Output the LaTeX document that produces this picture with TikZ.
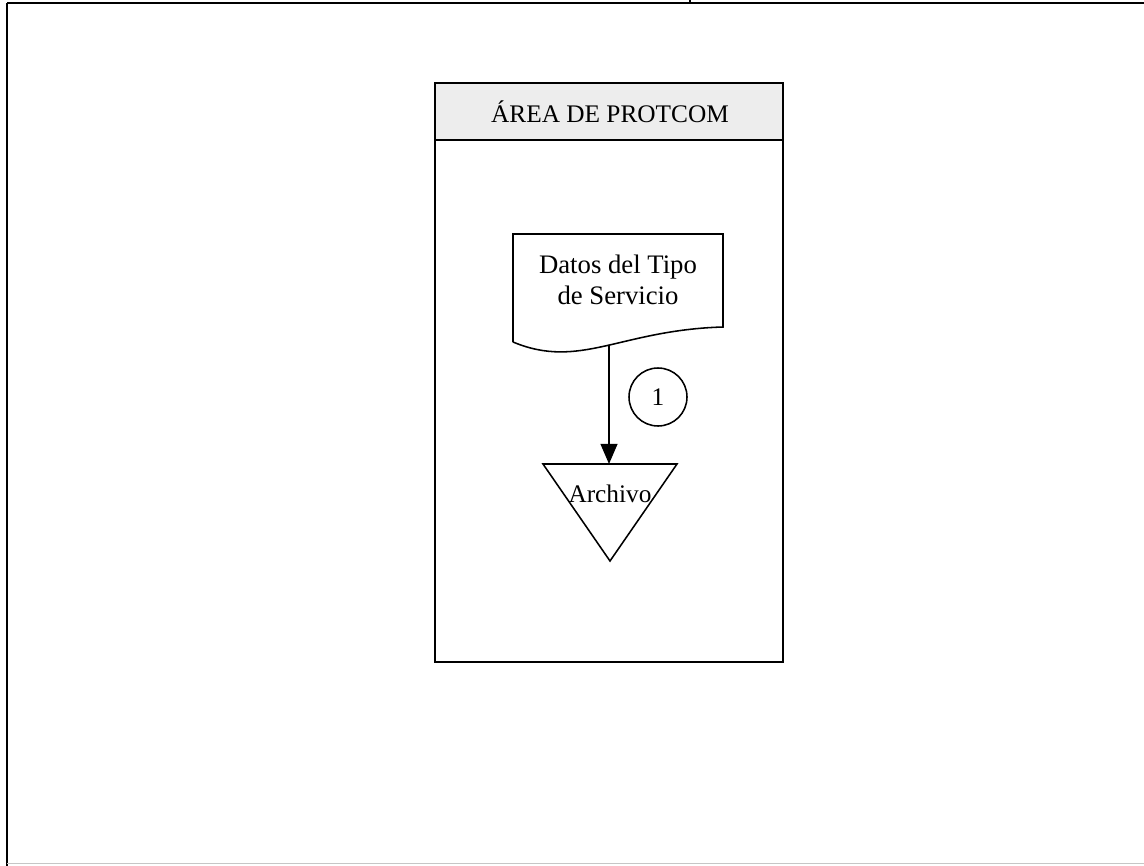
\documentclass[tikz,border=0pt]{standalone}
\usepackage{fontspec}
\setmainfont{Liberation Serif}
\usetikzlibrary{arrows.meta}
\tikzset{
	borde/.style={line width=1.3pt},
	figura/.style={line width=1.1pt},
	texto/.style={font=\fontsize{18}{21.5}\selectfont, align=center}
}
\begin{document}
\begin{tikzpicture}[x=0.025cm,y=-0.025cm]
			\useasboundingbox (0,0) rectangle (1144,866);
			% marco de la pagina
			\draw[borde] (7,3) -- (1144,3);
			\draw[borde] (7,3) -- (7,866);
			\draw[borde] (690,0) -- (690,3);
			\draw[gray!45] (7,863) -- (1144,863);
			% area
			\draw[borde, fill=gray!14] (435,83) rectangle (783,140);
			\draw[borde] (435,140) rectangle (783,662);
			\node[texto] (area) at (610,112) {ÁREA DE PROTCOM};
			% documento
			\draw[figura, fill=white] (513,342) -- (513,234) -- (723,234) -- (723,327)
				.. controls (620,330) and (580,370) .. (513,342);
			\node[texto, font=\fontsize{19}{22}\selectfont] (datos) at (618,280) {Datos del Tipo\\de Servicio};
			\coordinate (docbase) at (609,345);
			% archivo
			\draw[figura] (543,464) -- (677,464) -- (610,561) -- cycle;
			\coordinate (archtop) at (609,464);
			\node[texto] (archivo) at (610,494) {Archivo};
			% flujo
			\draw[figura, -{Triangle[length=0.5cm,width=0.42cm]}] (docbase) -- (archtop);
			\draw[figura] (658,397) circle (29);
			\node[texto] (uno) at (658,397) {1};
		\end{tikzpicture}
\end{document}
